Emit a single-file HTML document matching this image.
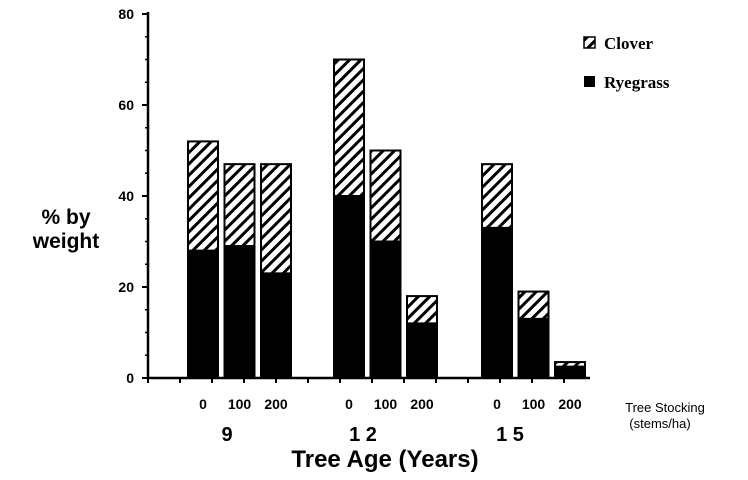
<!DOCTYPE html>
<html><head><meta charset="utf-8"><style>
body{margin:0;background:#fff;width:748px;height:475px;overflow:hidden}
svg text{font-family:"Liberation Sans",sans-serif;font-weight:bold;fill:#000}
</style></head><body>
<svg id="chart" width="748" height="475">
<defs><pattern id="hatch" patternUnits="userSpaceOnUse" width="8" height="8" patternTransform="rotate(45)">
<rect width="8" height="8" fill="#fff"/><rect width="3" height="8" fill="#000"/></pattern></defs>
<g id="axes"></g><g id="bars"></g>
<text x="62" y="224" font-size="21" text-anchor="middle"><tspan x="66">% by</tspan><tspan x="66" dy="24">weight</tspan></text>
<text x="385" y="467" font-size="24" text-anchor="middle">Tree  Age  (Years)</text>
<text x="665" y="412" font-size="13" style="font-weight:normal" text-anchor="middle">Tree Stocking</text>
<text x="660" y="428" font-size="13" style="font-weight:normal" text-anchor="middle">(stems/ha)</text>
<g>
<rect x="584" y="37" width="11" height="11" fill="url(#hatch)" stroke="#000" stroke-width="1.5"/>
<text x="604" y="49" font-size="17" style="font-family:'Liberation Serif',serif">Clover</text>
<rect x="584" y="76" width="11" height="11" fill="#000"/>
<text x="604" y="88" font-size="17" style="font-family:'Liberation Serif',serif">Ryegrass</text>
</g>
</svg>
<script>
const ages=["9","1 2","1 5"];
const stocking=["0","100","200"];
const ryegrass=[28,29,23,40,30,12,33,13,2.5];
const clover=[24,18,24,30,20,6,14,6,1];
const yTicks=[0,20,40,60,80];
const NS="http://www.w3.org/2000/svg";
const y0=378,yScale=v=>y0-v*(364/80);
const groupX=[187,333,481],barStep=36.5,barW=32;
const ageX=[227,363,510];
const barX=i=>groupX[Math.floor(i/3)]+(i%3)*barStep;
function mk(t,a,p){const e=document.createElementNS(NS,t);for(const k in a)e.setAttribute(k,a[k]);(p||document.getElementById('chart')).appendChild(e);return e;}
const ax=document.getElementById('axes'),bg=document.getElementById('bars');
let e=mk('line',{x1:148,y1:12,x2:148,y2:y0,stroke:'#000','stroke-width':2.5},ax);


e=mk('line',{x1:148,y1:y0,x2:590,y2:y0,stroke:'#000','stroke-width':2.5},ax);


for(let x=148;x<=590;x+=32){mk('line',{x1:x,y1:y0,x2:x,y2:y0+5,stroke:'#000','stroke-width':2},ax);}
yTicks.forEach(v=>{const y=yScale(v);
mk('line',{x1:142,y1:y,x2:148,y2:y,stroke:'#000','stroke-width':2},ax);
const t=mk('text',{x:134,y:y+5,'font-size':14,'text-anchor':'end'},ax);t.textContent=v;


for(let k=1;k<4&&v<80;k++){const yy=yScale(v+k*5);mk('line',{x1:145,y1:yy,x2:148,y2:yy,stroke:'#000','stroke-width':1.5},ax);}
});
ryegrass.forEach((r,i)=>{const x=barX(i);const c=clover[i];
const b=mk('rect',{x:x,y:yScale(r),width:barW,height:y0-yScale(r),fill:'#000'},bg);


const h=mk('rect',{x:x+1,y:yScale(r+c),width:barW-2,height:yScale(r)-yScale(r+c),fill:'url(#hatch)',stroke:'#000','stroke-width':2},bg);


const t=mk('text',{x:x+barW/2,y:409,'font-size':14,'text-anchor':'middle'},bg);t.textContent=stocking[i%3];


});
ages.forEach((a,g)=>{const t=mk('text',{x:ageX[g],y:441,'font-size':20,'text-anchor':'middle'},bg);t.textContent=a;

});
</script>
</body></html>
